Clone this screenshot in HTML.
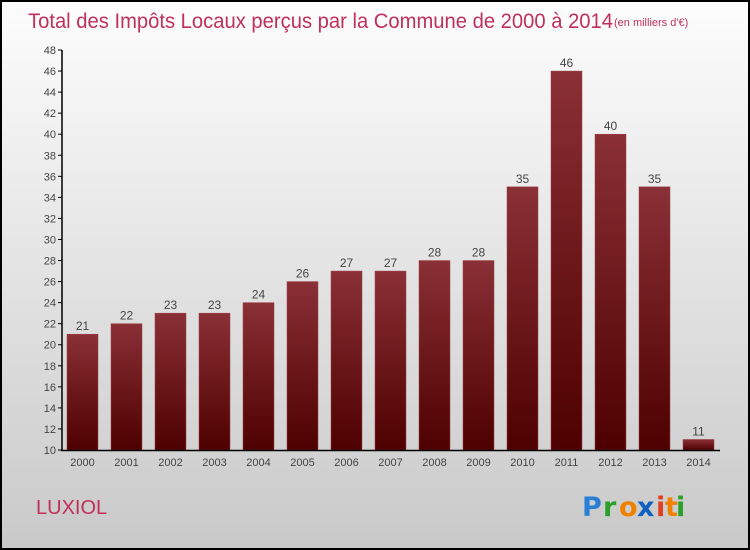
<!DOCTYPE html>
<html><head><meta charset="utf-8"><style>
html,body{margin:0;padding:0}
body{width:750px;height:550px;overflow:hidden}
svg{display:block;font-family:"Liberation Sans",sans-serif}
</style></head><body>
<svg id="chart" width="750" height="550">
<defs>
<linearGradient id="bg" x1="0" y1="0" x2="0" y2="1"><stop offset="0" stop-color="#fdfdfd"/><stop offset="1" stop-color="#c9c9c9"/></linearGradient>
<linearGradient id="bar" x1="0" y1="0" x2="0" y2="1"><stop offset="0" stop-color="#8a3036"/><stop offset="1" stop-color="#4e0000"/></linearGradient>
</defs>
<rect x="1" y="1" width="748" height="548" fill="url(#bg)" stroke="#000" stroke-width="2"/>
<text x="28" y="28" font-size="21" fill="#c0305a" textLength="585" lengthAdjust="spacingAndGlyphs">Total des Impôts Locaux perçus par la Commune de 2000 à 2014</text>
<text x="614" y="26" font-size="11" fill="#c0305a">(en milliers d'€)</text>
<text x="36" y="514" font-size="20" fill="#c0305a">LUXIOL</text>
<g font-size="27" font-weight="bold" font-family="'DejaVu Sans',sans-serif">
<text x="582" y="516" fill="#2a7fd4">P</text><text x="603" y="516" fill="#2aa02a">r</text><text x="619" y="516" fill="#f08000">o</text><text x="637" y="516" fill="#1060c0">x</text><text x="656" y="516" fill="#e04020">i</text><text x="665" y="516" fill="#f08000">t</text><text x="676" y="516" fill="#2aa02a">i</text>
</g>
<g id="plot"></g>
</svg>
<script>
const categories=["2000","2001","2002","2003","2004","2005","2006","2007","2008","2009","2010","2011","2012","2013","2014"];
const values=[21,22,23,23,24,26,27,27,28,28,35,46,40,35,11];
const yTicks=[10,12,14,16,18,20,22,24,26,28,30,32,34,36,38,40,42,44,46,48];
const ns="http://www.w3.org/2000/svg";
const g=document.getElementById('plot');
const y=v=>450-(v-10)*400/38;
const x=i=>67+i*44;
function mk(t,a){const e=document.createElementNS(ns,t);for(const k in a)e.setAttribute(k,a[k]);g.appendChild(e);return e;}
yTicks.forEach(t=>{
 const l=mk('line',{x1:58,x2:62,y1:y(t),y2:y(t),stroke:'#000'});
 
 
 const tx=mk('text',{x:56,y:y(t)+4,'font-size':11,'text-anchor':'end',fill:'#444'});tx.textContent=t;
 
 
});
values.forEach((v,i)=>{
 const r=mk('rect',{x:x(i),y:y(v),width:31,height:450-y(v),fill:'url(#bar)',stroke:'#a04048','stroke-width':0.5});
 
 
 const lb=mk('text',{x:x(i)+15.5,y:y(v)-4,'font-size':12,'text-anchor':'middle',fill:'#444'});lb.textContent=v;
 
 
 const cl=mk('text',{x:x(i)+15.5,y:466,'font-size':11,'text-anchor':'middle',fill:'#444'});cl.textContent=categories[i];
 
 
});
const ya=mk('line',{x1:62,x2:62,y1:50,y2:451,stroke:'#000','stroke-width':1.5});


const xa=mk('line',{x1:61,x2:720,y1:450.5,y2:450.5,stroke:'#000','stroke-width':1.5});


</script>
</body></html>
